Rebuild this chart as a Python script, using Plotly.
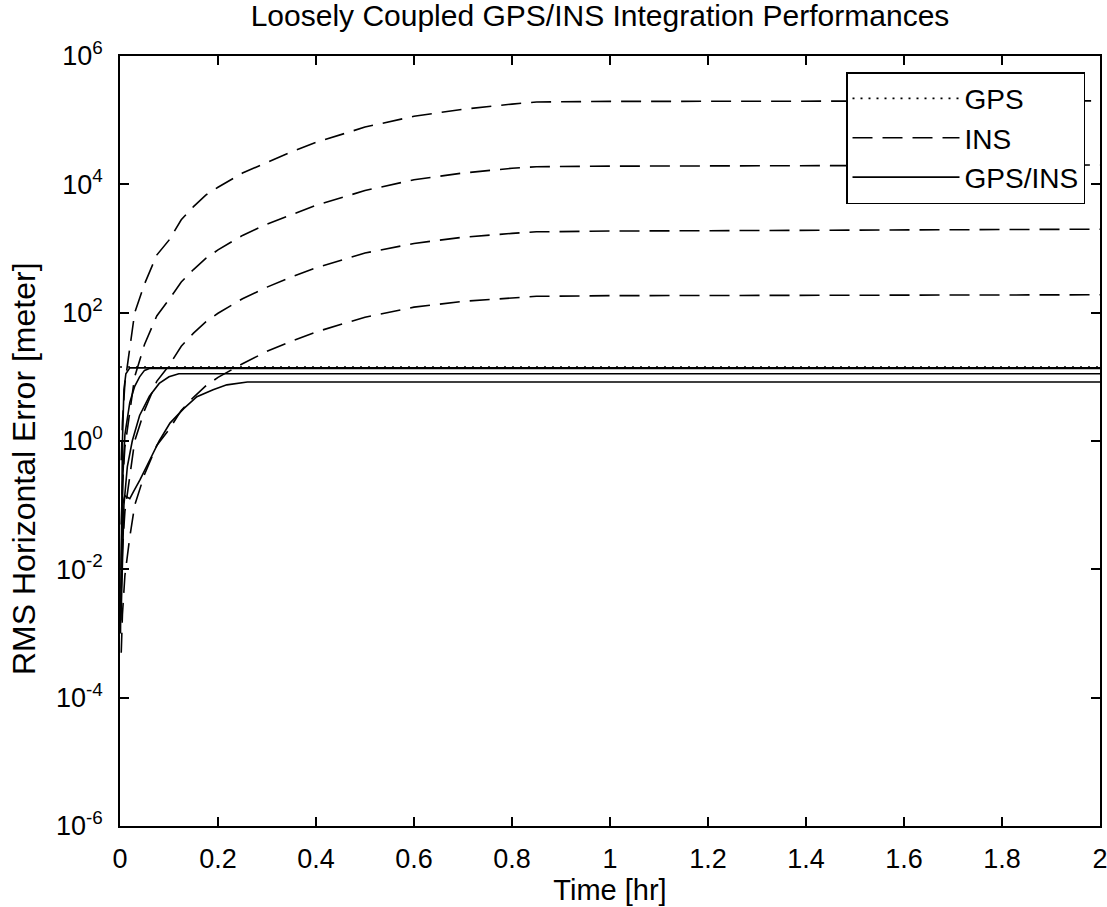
import plotly.graph_objects as go

# ---------------- data ----------------
x_ticks = [0, 0.2, 0.4, 0.6, 0.8, 1.0, 1.2, 1.4, 1.6, 1.8, 2.0]
x_tick_labels = ["0", "0.2", "0.4", "0.6", "0.8", "1", "1.2", "1.4", "1.6", "1.8", "2"]
y_ticks = [1e-6, 1e-4, 1e-2, 1e0, 1e2, 1e4, 1e6]
y_tick_labels = ["10<sup>-6</sup>", "10<sup>-4</sup>", "10<sup>-2</sup>", "10<sup>0</sup>",
                 "10<sup>2</sup>", "10<sup>4</sup>", "10<sup>6</sup>"]

# GPS (dotted)
gps_t = [0.0, 2.0]
gps_err = [14.2, 14.2]

# INS (dashed) – four cases
ins_t = [0.0025, 0.005, 0.01, 0.02, 0.03, 0.05, 0.075, 0.1, 0.125, 0.15, 0.175, 0.2, 0.25, 0.3,
         0.35, 0.4, 0.5, 0.6, 0.7, 0.8, 0.85, 1.0, 1.5, 2.0]
ins1_err = [0.5, 2.0, 7.9, 30, 100, 280, 790, 1350, 2800, 4500, 6800, 9000, 15000, 22000,
            32000, 45000, 78000, 115000, 148000, 178000, 192000, 196000, 199000, 200000]
ins2_err = [0.05, 0.2, 0.8, 3.0, 10, 32, 89, 160, 300, 470, 700, 950, 1600, 2400,
            3400, 4700, 8000, 11800, 15000, 17800, 18800, 19200, 19600, 20000]
ins3_err = [0.005, 0.02, 0.08, 0.3, 1.0, 3.0, 8.5, 15, 30, 48, 72, 98, 165, 250,
            360, 500, 850, 1200, 1500, 1720, 1820, 1870, 1920, 2000]
ins4_err = [0.0005, 0.002, 0.008, 0.032, 0.1, 0.3, 0.85, 1.5, 3.0, 4.8, 7.2, 9.8, 16, 25,
            36, 50, 85, 122, 150, 172, 180, 184, 187, 190]

# GPS/INS (solid) – four cases
gi1_t = [0.001, 0.003, 0.005, 0.008, 0.012, 0.02, 2.0]
gi1_err = [0.001, 0.032, 1.0, 6.3, 11.2, 13.8, 13.8]
gi2_t = [0.002, 0.004, 0.006, 0.01, 0.02, 0.03, 0.04, 0.05, 0.06, 2.0]
gi2_err = [0.003, 0.03, 0.3, 1.26, 4.0, 7.1, 10, 12.6, 13.5, 13.5]
gi3_t = [0.002, 0.004, 0.008, 0.015, 0.025, 0.04, 0.06, 0.08, 0.1, 0.12, 2.0]
gi3_err = [0.0016, 0.01, 0.1, 0.4, 1.0, 2.5, 5.0, 7.9, 10, 11.2, 11.2]
gi4_t = [0.002, 0.005, 0.01, 0.02, 0.027, 0.041, 0.061, 0.08, 0.102, 0.13, 0.157,
         0.19, 0.218, 0.26, 2.0]
gi4_err = [0.01, 0.1, 0.14, 0.126, 0.16, 0.25, 0.51, 1.0, 1.9, 3.2, 4.9, 6.3, 7.5, 8.3, 8.3]

# ---------------- figure ----------------
FONT = "Liberation Sans, Arial, sans-serif"
LW = 1.6
DASH = "20px,10px"
DOT = "2px,6px"
PLOT_TOP, PLOT_BOTTOM = 56, 826

fig = go.Figure()

fig.add_trace(go.Scatter(x=gps_t, y=gps_err, mode="lines", name="GPS",
                         line=dict(color="black", width=LW, dash=DOT), legendrank=1))

for i, e in enumerate([ins1_err, ins2_err, ins3_err, ins4_err]):
    fig.add_trace(go.Scatter(x=ins_t, y=e, mode="lines", name="INS",
                             legendgroup="ins", showlegend=(i == 0), legendrank=2,
                             line=dict(color="black", width=LW, dash=DASH)))

for i, (t, e) in enumerate([(gi1_t, gi1_err), (gi2_t, gi2_err), (gi3_t, gi3_err), (gi4_t, gi4_err)]):
    fig.add_trace(go.Scatter(x=t, y=e, mode="lines", name="GPS/INS",
                             legendgroup="gi", showlegend=(i == 0), legendrank=3,
                             line=dict(color="black", width=LW)))

axis_common = dict(showline=True, linecolor="black", linewidth=1.5, mirror="ticks",
                   ticks="inside", ticklen=9, tickwidth=1.5, tickcolor="black",
                   showgrid=False, zeroline=False, automargin=False,
                   ticklabeloverflow="allow",
                   tickfont=dict(family=FONT, size=27, color="black"))

fig.update_xaxes(range=[0, 2], tickmode="array", tickvals=x_ticks, ticktext=x_tick_labels,
                 title=dict(text="Time [hr]", font=dict(family=FONT, size=29, color="black"),
                            standoff=4),
                 ticklabelstandoff=8, **axis_common)
fig.update_yaxes(type="log", range=[-6, 6], tickmode="array", tickvals=y_ticks,
                 ticktext=y_tick_labels, ticklabelstandoff=10, **axis_common)

# y-axis label (placed as in the reference, slightly below the axis centre)
fig.add_annotation(text="RMS Horizontal Error [meter]", textangle=-90,
                   xref="paper", yref="paper",
                   x=-(120 - 24) / 980, xanchor="center",
                   y=(PLOT_BOTTOM - 469) / (PLOT_BOTTOM - PLOT_TOP), yanchor="middle",
                   showarrow=False, font=dict(family=FONT, size=32, color="black"))

fig.update_layout(
    width=1107, height=907,
    margin=dict(l=120, r=7, t=PLOT_TOP, b=907 - PLOT_BOTTOM),
    paper_bgcolor="white", plot_bgcolor="white",
    title=dict(text="Loosely Coupled GPS/INS Integration Performances",
               font=dict(family=FONT, size=30, color="black"),
               x=600 / 1107, xanchor="center",
               y=1 - 15 / 907, yanchor="middle", yref="container"),
    legend=dict(x=0.9847, xanchor="right", y=0.979, yanchor="top",
                bgcolor="white", bordercolor="black", borderwidth=1.5,
                font=dict(family=FONT, size=28, color="black"),
                itemwidth=107, entrywidth=147, tracegroupgap=0),
    showlegend=True,
)

fig.write_html("out.html")
